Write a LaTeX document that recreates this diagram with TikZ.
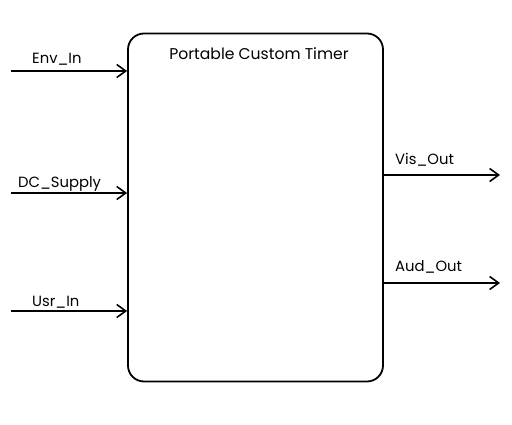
\documentclass[tikz,border=0pt]{standalone}
\usepackage{fontspec}
\setmainfont{Poppins}
\usetikzlibrary{arrows.meta, positioning}

\begin{document}
\begin{tikzpicture}[
  x=1pt, y=-1pt,
  blockbox/.style={draw, line width=1.8pt, rounded corners=16pt, minimum width=255pt, minimum height=348pt, inner sep=0pt},
  sigline/.style={line width=1.6pt, -{Straight Barb[length=9pt, width=13pt, line width=1.6pt]}},
  siglabel/.style={font=\fontsize{14.8}{16}\selectfont, anchor=base west, inner sep=0pt},
]
\useasboundingbox (0,0) rectangle (512,425);

% Block
\node[blockbox] (timer) at (255.5, 207.5) {};
\node[font=\fontsize{15.6}{17}\selectfont, anchor=base] (title) at (259, 60) {Portable Custom Timer};

% Inputs
\coordinate (envsrc) at (11, 71);
\coordinate (dcsrc) at (11, 193);
\coordinate (usrsrc) at (11, 311);
\draw[sigline] (envsrc) -- (timer.west |- envsrc);
\draw[sigline] (dcsrc) -- (timer.west |- dcsrc);
\draw[sigline] (usrsrc) -- (timer.west |- usrsrc);
\node[siglabel] (envlbl) at (32, 64) {Env\_In};
\node[siglabel] (dclbl) at (18, 188) {DC\_Supply};
\node[siglabel] (usrlbl) at (32, 306) {Usr\_In};

% Outputs
\coordinate (visdst) at (500, 175);
\coordinate (auddst) at (500, 283);
\draw[sigline] (timer.east |- visdst) -- (visdst);
\draw[sigline] (timer.east |- auddst) -- (auddst);
\node[siglabel] (vislbl) at (395, 165) {Vis\_Out};
\node[siglabel] (audlbl) at (395, 272) {Aud\_Out};

\end{tikzpicture}
\end{document}
